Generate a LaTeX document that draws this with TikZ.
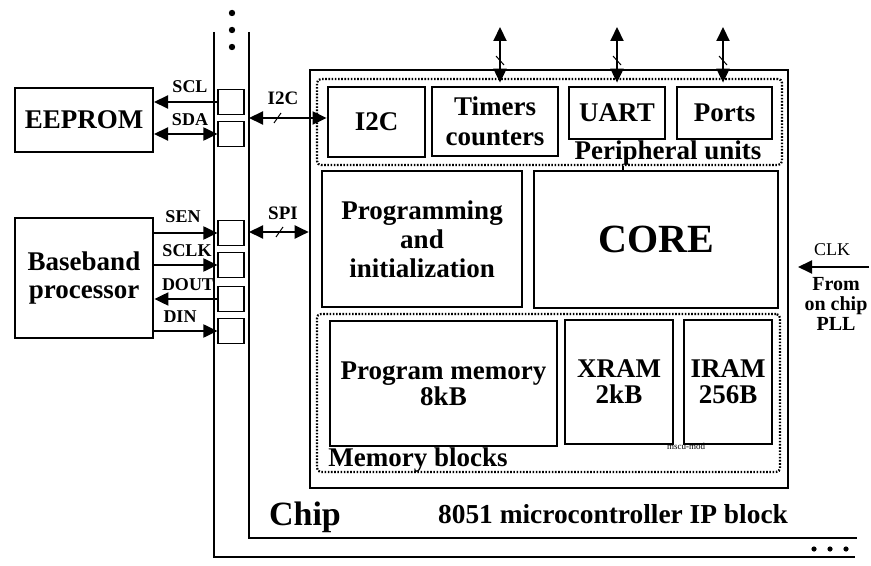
\documentclass[tikz,border=0pt]{standalone}
\usepackage{fontspec}
\setmainfont{Liberation Serif}
\usetikzlibrary{arrows.meta}
\newcommand\fsz[2]{\fontsize{#1}{#2}\selectfont\bfseries}
\begin{document}
\begin{tikzpicture}[x=0.5pt,y=-0.5pt,
  >={Triangle[length=7pt,width=6.5pt]},
  bx/.style={draw, line width=1.4pt, inner sep=0pt, align=center, font=\fsz{13.5}{15}},
  thinbx/.style={bx, line width=1pt},
  dotbox/.style={draw, line width=1.1pt, dash pattern=on 0.8pt off 0.8pt, rounded corners=2pt, inner sep=0pt},
  pad/.style={draw, line width=0.6pt, minimum width=13pt, minimum height=12.5pt, inner sep=0pt},
  arr/.style={line width=1pt, ->},
  darr/.style={line width=1pt, <->},
  lbl/.style={inner sep=0pt, font=\fsz{9}{10}},
  grp/.style={inner sep=0pt, font=\fsz{13.5}{15}},
  tickmark/.style={line width=0.5pt},
  chipline/.style={line width=1pt}
]
\useasboundingbox (0,0) rectangle (871,566);

% chip boundary lines
\draw[chipline] (214,32) -- (214,557) -- (855,557);
\draw[chipline] (249,32) -- (249,538) -- (857,538);
\fill (232,13) circle (1.6pt);
\fill (232,30) circle (1.6pt);
\fill (232,47) circle (1.6pt);
\fill (814,549) circle (1.3pt);
\fill (830,549) circle (1.3pt);
\fill (846,549) circle (1.3pt);

% external blocks
\node[thinbx, minimum width=69pt, minimum height=32pt] (eeprom) at (84,120) {EEPROM};
\node[bx, minimum width=69pt, minimum height=60pt, font=\fsz{13.5}{14}] (bb) at (84,278) {Baseband\\processor};

% pads
\foreach \n/\y in {p1/102,p2/134,p3/233,p4/265,p5/299,p6/331}
  \node[pad] (\n) at (231,\y) {};

% pad signals
\draw[arr] (p1.west) -- (p1.west -| eeprom.east);
\draw[darr] (eeprom.east |- p2.west) -- (p2.west);
\draw[arr] (bb.east |- p3.west) -- (p3.west);
\draw[arr] (bb.east |- p4.west) -- (p4.west);
\draw[arr] (p5.west) -- (p5.west -| bb.east);
\draw[arr] (bb.east |- p6.west) -- (p6.west);
\node[lbl] (lscl) at (190,87) {SCL};
\node[lbl] (lsda) at (190,120) {SDA};
\node[lbl] (lsen) at (183,217) {SEN};
\node[lbl] (lsclk) at (187,251) {SCLK};
\node[lbl] (ldout) at (188,285) {DOUT};
\node[lbl] (ldin) at (180,317) {DIN};

% IP block
\node[draw, line width=1.3pt, minimum width=239pt, minimum height=209pt, inner sep=0pt] (ip) at (549,279) {};

% peripheral units
\node[dotbox, minimum width=232.5pt, minimum height=43pt] (periph) at (549.5,122) {};
\node[bx, minimum width=48.5pt, minimum height=35pt] (i2c) at (376.5,122) {I2C};
\node[bx, minimum width=63pt, minimum height=34.5pt] (timers) at (495,121.5) {Timers\\counters};
\node[bx, minimum width=48pt, minimum height=26pt] (uart) at (617,113) {UART};
\node[bx, minimum width=47.5pt, minimum height=26pt] (ports) at (724.5,113) {Ports};
\node[grp] (lper) at (668,153) {Peripheral units};

% core and programming
\node[thinbx, minimum width=100pt, minimum height=68pt, font=\fsz{13.5}{14.5}] (prog) at (422,239) {Programming\\and\\initialization};
\node[thinbx, minimum width=122pt, minimum height=68.5pt, font=\fsz{20}{22}] (core) at (656,239.5) {CORE};

% memory blocks
\node[dotbox, minimum width=231.5pt, minimum height=79pt] (mem) at (548.5,393) {};
\node[bx, minimum width=113.5pt, minimum height=62.5pt, font=\fsz{13.5}{13}] (pmem) at (443.5,383.5) {Program memory\\8kB};
\node[bx, minimum width=54pt, minimum height=62pt, font=\fsz{13.5}{13}] (xram) at (619,382) {XRAM\\2kB};
\node[bx, minimum width=44pt, minimum height=62pt, font=\fsz{13.5}{13}] (iram) at (728,382) {IRAM\\256B};
\node[grp] (lmem) at (418,460) {Memory blocks};
\node[inner sep=0pt, font=\fontsize{4.5}{5}\selectfont] (tiny) at (686,446) {mscu-mod};

% peripheral to core link
\coordinate (pc) at (623,0);
\draw[line width=1pt] (pc |- periph.south) -- (pc |- core.north);

% buses
\coordinate (i2cb) at (249,118);
\draw[darr] (i2cb) -- (i2cb -| i2c.west);
\draw[tickmark] (274,123) -- (281,113);
\node[lbl, font=\fsz{9.5}{10}] (li2c) at (283,98) {I2C};
\coordinate (spib) at (249,232);
\draw[darr] (spib) -- (spib -| ip.west);
\draw[tickmark] (276,237) -- (283,227);
\node[lbl, font=\fsz{9.5}{10}] (lspi) at (283,213) {SPI};

% vertical peripheral buses
\coordinate (v1) at (500,27);
\coordinate (v2) at (617,27);
\coordinate (v3) at (723,27);
\draw[darr, shorten >=1.5pt] (v1) -- (v1 |- timers.north);
\draw[darr, shorten >=1.5pt] (v2) -- (v2 |- uart.north);
\draw[darr, shorten >=1.5pt] (v3) -- (v3 |- ports.north);
\draw[tickmark] (496,56) -- (504,65);
\draw[tickmark] (613,56) -- (621,65);
\draw[tickmark] (719,56) -- (727,65);

% clock
\coordinate (clks) at (869,267);
\coordinate (clkt) at (798,267);
\draw[arr] (clks) -- (clkt);
\node[inner sep=0pt, font=\fontsize{9}{10}\selectfont] (lclk) at (832,250) {CLK};
\node[inner sep=0pt, align=center, font=\fsz{10}{10}] (lpll) at (836,304) {From\\on chip\\PLL};

% captions
\node[inner sep=0pt, font=\fsz{17}{18}] (lchip) at (305,517) {Chip};
\node[inner sep=0pt, font=\fsz{13.7}{15}] (lip) at (613,514) {8051 microcontroller IP block};
\end{tikzpicture}
\end{document}
